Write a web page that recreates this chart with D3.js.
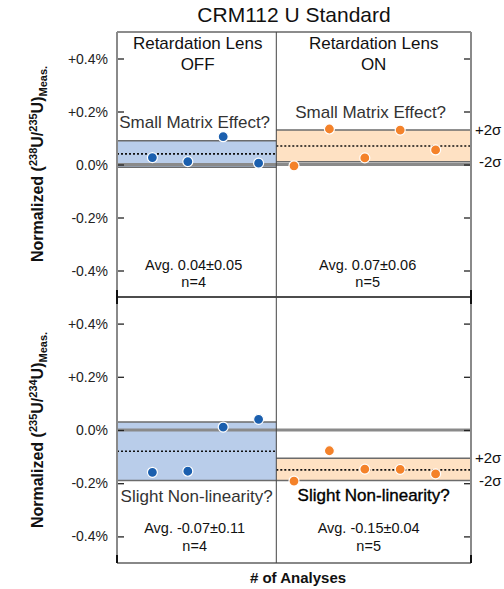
<!DOCTYPE html>
<html>
<head>
<meta charset="utf-8">
<script src="https://cdn.jsdelivr.net/npm/d3@7"></script>
<style>
body { margin: 0; background: #fff; }
text { font-family: "Liberation Sans", Helvetica, Arial, sans-serif; }
</style>
</head>
<body>
<script>
var w = 504,
    h = 589;

// analysis index of each point
var offIdx = [1, 2, 3, 4],
    onIdx = [5, 6, 7, 8, 9];

// top panel, 238U/235U
var u238Off = [0.026, 0.011, 0.105, 0.005],
    u238On = [-0.005, 0.134, 0.025, 0.130, 0.055];
// bottom panel, 235U/234U
var u235Off = [-0.159, -0.155, 0.011, 0.040],
    u235On = [-0.192, -0.078, -0.147, -0.148, -0.165];

// [low 2s, mean, high 2s]
var band238Off = [-0.01, 0.04, 0.09],
    band238On = [0.01, 0.07, 0.13],
    band235Off = [-0.19, -0.08, 0.03],
    band235On = [-0.19, -0.15, -0.106];

var yTicks = [0.4, 0.2, 0.0, -0.2, -0.4];
var tickLabels = ["+0.4%", "+0.2%", "0.0%", "-0.2%", "-0.4%"];

var margin = { left: 117, right: 33 };
var split = 4.5;

var x = d3.scaleLinear()
    .domain([0, 10])
    .range([margin.left, w - margin.right]);

var yTop = d3.scaleLinear().domain([-0.5, 0.5]).range([297, 32]);
var yBot = d3.scaleLinear().domain([-0.5, 0.5]).range([563, 297]);

var blue = "#1b5fae", blueBand = "#b9cdea",
    orange = "#f4822a", orangeBand = "#fee1c3";

var svg = d3.select("body").append("svg")
    .attr("width", w)
    .attr("height", h);

function drawPanel(y, offVals, onVals, bOff, bOn) {
    var g = svg.append("g");

    var groups = [
        { x0: 0, x1: split, band: bOff, fill: blueBand, col: blue, idx: offIdx, vals: offVals },
        { x0: split, x1: 10, band: bOn, fill: orangeBand, col: orange, idx: onIdx, vals: onVals }
    ];

    groups.forEach(function(d) {
        g.append("rect")
            .attr("x", x(d.x0))
            .attr("width", x(d.x1) - x(d.x0))
            .attr("y", y(d.band[2]))
            .attr("height", y(d.band[0]) - y(d.band[2]))
            .attr("fill", d.fill);
        [d.band[0], d.band[2]].forEach(function(v) {
            g.append("line")
                .attr("x1", x(d.x0)).attr("x2", x(d.x1))
                .attr("y1", y(v)).attr("y2", y(v))
                .attr("stroke", "#6b6b6b")
                .attr("stroke-width", 1.5);
        });
    });

    // zero line
    g.append("line")
        .attr("x1", x(0)).attr("x2", x(10))
        .attr("y1", y(0)).attr("y2", y(0))
        .attr("stroke", "#8a8a8a")
        .attr("stroke-width", 3);

    groups.forEach(function(d) {
        g.append("line")
            .attr("x1", x(d.x0)).attr("x2", x(d.x1))
            .attr("y1", y(d.band[1])).attr("y2", y(d.band[1]))
            .attr("stroke", "#111")
            .attr("stroke-width", 1.6)
            .attr("stroke-dasharray", "2,2");

        g.selectAll(null)
            .data(d.vals)
            .enter().append("circle")
            .attr("cx", function(v, i) { return x(d.idx[i]); })
            .attr("cy", function(v) { return y(v); })
            .attr("r", 5)
            .attr("fill", d.col)
            .attr("stroke", "#fff")
            .attr("stroke-width", 1.2);
    });

    // inward ticks both sides
    g.append("g")
        .attr("transform", "translate(" + x(0) + ",0)")
        .call(d3.axisRight(y).tickValues(yTicks).tickSize(7).tickFormat(""));
    g.append("g")
        .attr("transform", "translate(" + x(10) + ",0)")
        .call(d3.axisLeft(y).tickValues(yTicks).tickSize(7).tickFormat(""));
    g.selectAll(".domain").remove();
    g.selectAll(".tick line").attr("stroke", "#222").attr("stroke-width", 1.3);

    g.selectAll(null)
        .data(yTicks)
        .enter().append("text")
        .attr("x", 108)
        .attr("y", function(v) { return y(v) + 5; })
        .attr("text-anchor", "end")
        .attr("font-size", 14)
        .attr("fill", "#222")
        .text(function(v, i) { return tickLabels[i]; });

    // +/-2 sigma labels on ON band
    [[bOn[2], "+2σ", 475], [bOn[0], "-2σ", 479]].forEach(function(s) {
        g.append("text")
            .attr("x", s[2])
            .attr("y", y(s[0]) + 5)
            .attr("font-size", 15)
            .attr("fill", "#111")
            .text(s[1]);
    });

    return g;
}

drawPanel(yTop, u238Off, u238On, band238Off, band238On);
drawPanel(yBot, u235Off, u235On, band235Off, band235On);

// frame
var frame = svg.append("g").attr("fill", "none");
frame.append("line").attr("x1", x(0)).attr("x2", x(10)).attr("y1", 32).attr("y2", 32)
    .attr("stroke", "#666").attr("stroke-width", 1.5);
frame.append("line").attr("x1", x(0)).attr("x2", x(10)).attr("y1", 297).attr("y2", 297)
    .attr("stroke", "#111").attr("stroke-width", 1.5);
frame.append("line").attr("x1", x(0)).attr("x2", x(10)).attr("y1", 563).attr("y2", 563)
    .attr("stroke", "#888").attr("stroke-width", 2);
[x(0), x(10)].forEach(function(px) {
    frame.append("line").attr("x1", px).attr("x2", px).attr("y1", 32).attr("y2", 563)
        .attr("stroke", "#8a8a8a").attr("stroke-width", 2);
    frame.append("line").attr("x1", px).attr("x2", px).attr("y1", 290).attr("y2", 304)
        .attr("stroke", "#111").attr("stroke-width", 2);
    frame.append("line").attr("x1", px).attr("x2", px).attr("y1", 555).attr("y2", 563)
        .attr("stroke", "#111").attr("stroke-width", 2);
});
frame.append("line").attr("x1", x(split)).attr("x2", x(split)).attr("y1", 32).attr("y2", 563)
    .attr("stroke", "#444").attr("stroke-width", 1);

// texts
var cL = (x(0) + x(split)) / 2,
    cR = (x(split) + x(10)) / 2;

function label(tx, ty, str, size, fill, weight) {
    return svg.append("text")
        .attr("x", tx).attr("y", ty)
        .attr("text-anchor", "middle")
        .attr("font-size", size)
        .attr("fill", fill)
        .attr("font-weight", weight || "normal")
        .text(str);
}

label(294, 22, "CRM112 U Standard", 21, "#111");
label(cL + 1, 49, "Retardation Lens", 17, "#111");
label(cL + 1, 70, "OFF", 17, "#111");
label(cR, 49, "Retardation Lens", 17, "#111");
label(cR, 70, "ON", 17, "#111");

label(cL - 2, 128, "Small Matrix Effect?", 17, "#333");
label(cR - 3, 118, "Small Matrix Effect?", 17, "#333");
label(cL - 3, 270, "Avg. 0.04±0.05", 14.5, "#111");
label(cL - 3, 287, "n=4", 14.5, "#111");
label(cR - 6, 270, "Avg. 0.07±0.06", 14.5, "#111");
label(cR - 6, 287, "n=5", 14.5, "#111");

label(cL, 502, "Slight Non-linearity?", 17, "#333");
label(cR, 501, "Slight Non-linearity?", 17, "#000")
    .attr("stroke", "#000").attr("stroke-width", 0.35);
label(cL - 2, 533, "Avg. -0.07±0.11", 14.5, "#111");
label(cL - 2, 551, "n=4", 14.5, "#111");
label(cR - 5, 533, "Avg. -0.15±0.04", 14.5, "#111");
label(cR - 5, 551, "n=5", 14.5, "#111");

label(298, 583, "# of Analyses", 15, "#111", "bold");

// rotated y titles
function yTitle(cy, a, b) {
    var t = svg.append("text")
        .attr("transform", "translate(43," + cy + ") rotate(-90)")
        .attr("text-anchor", "middle")
        .attr("font-size", 16)
        .attr("font-weight", "bold")
        .attr("fill", "#111");
    t.append("tspan").text("Normalized (");
    t.append("tspan").attr("font-size", 11).attr("dy", -6).text(a);
    t.append("tspan").attr("dy", 6).text("U/");
    t.append("tspan").attr("font-size", 11).attr("dy", -6).text(b);
    t.append("tspan").attr("dy", 6).text("U)");
    t.append("tspan").attr("font-size", 11).attr("dy", 4).text("Meas.");
}
yTitle(164, "238", "235");
yTitle(430, "235", "234");
</script>
</body>
</html>
